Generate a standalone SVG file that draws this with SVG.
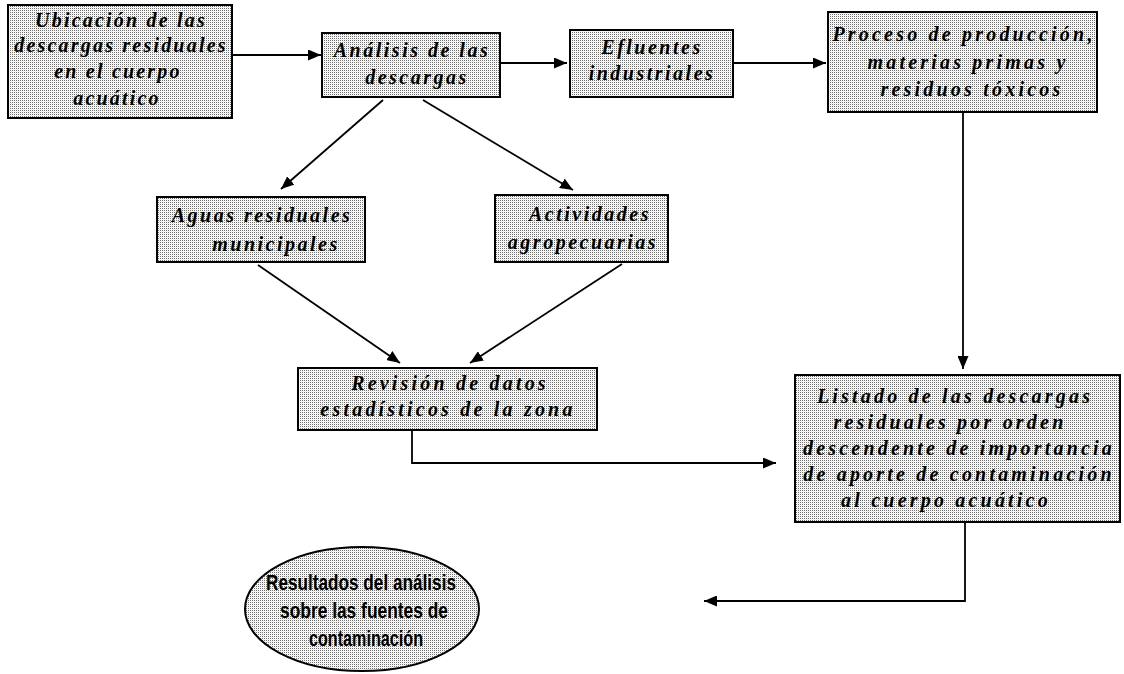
<svg xmlns="http://www.w3.org/2000/svg" width="1124" height="674" viewBox="0 0 1124 674">
<defs>
<pattern id="dots" width="2" height="2" patternUnits="userSpaceOnUse">
<rect width="2" height="2" fill="#ffffff"/>
<rect width="1" height="1" fill="#707070"/>
<rect x="1" y="1" width="1" height="1" fill="#ececec"/>
</pattern>
<marker id="ah" viewBox="0 0 13 11" refX="13" refY="5.5" markerWidth="13" markerHeight="11" markerUnits="userSpaceOnUse" orient="auto">
<path d="M0,0 L13,5.5 L0,11 Z" fill="#000"/>
</marker>
<style>
.box{fill:url(#dots);stroke:#000;stroke-width:2}
.t{font-family:"Liberation Serif","DejaVu Serif",serif;font-style:italic;font-weight:bold;font-size:20px;letter-spacing:2.5px;text-anchor:middle;fill:#000}
.w{letter-spacing:3.2px}
.n{letter-spacing:2.2px}
.r{font-family:"Liberation Sans Narrow","Liberation Sans",Arial,sans-serif;font-weight:bold;font-size:22px;text-anchor:middle;fill:#000}
.c{fill:none;stroke:#000;stroke-width:1.8}
</style>
</defs>
<rect width="1124" height="674" fill="#ffffff"/>

<g id="connectors">
<line class="c" x1="232" y1="55" x2="321" y2="55" marker-end="url(#ah)"/>
<line class="c" x1="500" y1="63" x2="567" y2="63" marker-end="url(#ah)"/>
<line class="c" x1="733" y1="63" x2="826" y2="63" marker-end="url(#ah)"/>
<line class="c" x1="383" y1="100" x2="281" y2="189" marker-end="url(#ah)"/>
<line class="c" x1="423" y1="100" x2="573" y2="190" marker-end="url(#ah)"/>
<line class="c" x1="258" y1="265" x2="400" y2="363" marker-end="url(#ah)"/>
<line class="c" x1="622" y1="264" x2="470" y2="363" marker-end="url(#ah)"/>
<line class="c" x1="963" y1="112" x2="963" y2="369" marker-end="url(#ah)"/>
<polyline class="c" points="412,430 412,463 776,463" marker-end="url(#ah)"/>
<polyline class="c" points="965,522 965,601 704,601" marker-end="url(#ah)"/>
</g>

<g id="n1">
<rect class="box" x="8" y="5" width="224" height="113"/>
<text class="t n" x="121" y="27">Ubicación de las</text>
<text class="t n" x="121" y="52">descargas residuales</text>
<text class="t n" x="118" y="78">en el cuerpo</text>
<text class="t n" x="117" y="105">acuático</text>
</g>
<g id="n2">
<rect class="box" x="322" y="33" width="178" height="64"/>
<text class="t" x="412" y="57">Análisis de las</text>
<text class="t" x="417" y="84">descargas</text>
</g>
<g id="n3">
<rect class="box" x="570" y="30" width="163" height="67"/>
<text class="t" x="652" y="54">Efluentes</text>
<text class="t" x="652" y="80">industriales</text>
</g>
<g id="n4">
<rect class="box" x="828" y="12" width="269" height="100"/>
<text class="t w" x="964" y="41">Proceso de producción,</text>
<text class="t w" x="968" y="69">materias primas y</text>
<text class="t w" x="972" y="96">residuos tóxicos</text>
</g>
<g id="n5">
<rect class="box" x="157" y="197" width="208" height="65"/>
<text class="t" x="262" y="222">Aguas residuales</text>
<text class="t" x="276" y="251">municipales</text>
</g>
<g id="n6">
<rect class="box" x="495" y="195" width="173" height="67"/>
<text class="t" x="590" y="221">Actividades</text>
<text class="t" x="583" y="249">agropecuarias</text>
</g>
<g id="n7">
<rect class="box" x="298" y="368" width="299" height="62"/>
<text class="t w" x="450" y="390">Revisión de datos</text>
<text class="t w" x="448" y="416">estadísticos de la zona</text>
</g>
<g id="n8">
<rect class="box" x="795" y="375" width="325" height="147"/>
<text class="t w" x="955" y="403">Listado de las descargas</text>
<text class="t w" x="950" y="429">residuales por orden</text>
<text class="t w" x="959" y="455">descendente de importancia</text>
<text class="t w" x="959" y="481">de aporte de contaminación</text>
<text class="t w" x="946" y="507">al cuerpo acuático</text>
</g>
<g id="n9">
<ellipse class="box" cx="362" cy="609" rx="117" ry="62"/>
<text class="r" x="361" y="590" textLength="190" lengthAdjust="spacingAndGlyphs">Resultados del análisis</text>
<text class="r" x="364" y="618" textLength="168" lengthAdjust="spacingAndGlyphs">sobre las fuentes de</text>
<text class="r" x="366" y="646" textLength="114" lengthAdjust="spacingAndGlyphs">contaminación</text>
</g>
</svg>
